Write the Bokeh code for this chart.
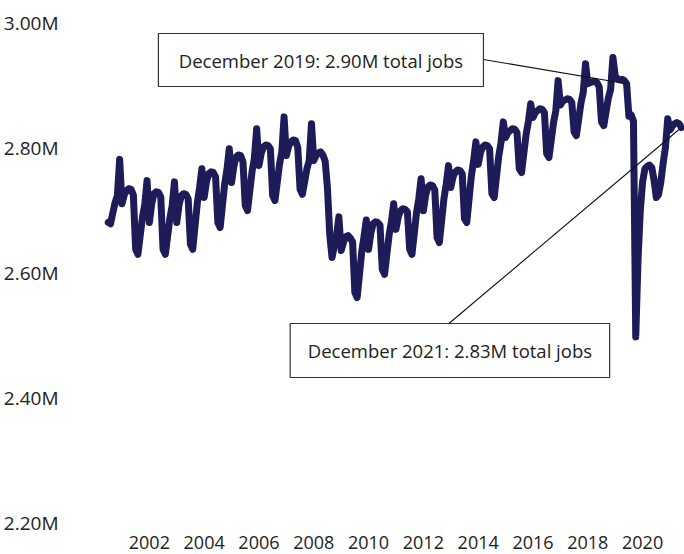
from bokeh.plotting import figure
from bokeh.models import Range1d, FixedTicker, CustomJSTickFormatter, PrintfTickFormatter, Label
from bokeh.embed import file_html
from bokeh.resources import INLINE

# ---- data: total jobs, millions, monthly Jan..Dec ----
jobs_2001 = [2.680, 2.678, 2.695, 2.712, 2.723, 2.781, 2.710, 2.724, 2.731, 2.734, 2.733, 2.724]
jobs_2002 = [2.637, 2.629, 2.659, 2.689, 2.709, 2.747, 2.680, 2.709, 2.726, 2.729, 2.728, 2.721]
jobs_2003 = [2.637, 2.629, 2.658, 2.687, 2.707, 2.745, 2.680, 2.708, 2.723, 2.726, 2.725, 2.718]
jobs_2004 = [2.645, 2.637, 2.674, 2.711, 2.736, 2.766, 2.720, 2.745, 2.758, 2.761, 2.760, 2.753]
jobs_2005 = [2.680, 2.672, 2.707, 2.742, 2.765, 2.798, 2.744, 2.770, 2.785, 2.788, 2.787, 2.777]
jobs_2006 = [2.707, 2.699, 2.731, 2.762, 2.783, 2.830, 2.771, 2.791, 2.801, 2.804, 2.803, 2.798]
jobs_2007 = [2.723, 2.715, 2.744, 2.773, 2.793, 2.849, 2.787, 2.802, 2.809, 2.812, 2.811, 2.800]
jobs_2008 = [2.733, 2.725, 2.745, 2.766, 2.779, 2.838, 2.779, 2.787, 2.791, 2.793, 2.788, 2.778]
jobs_2009 = [2.735, 2.660, 2.624, 2.643, 2.660, 2.689, 2.635, 2.648, 2.657, 2.659, 2.655, 2.649]
jobs_2010 = [2.568, 2.560, 2.596, 2.633, 2.657, 2.684, 2.637, 2.663, 2.678, 2.681, 2.680, 2.676]
jobs_2011 = [2.605, 2.597, 2.629, 2.660, 2.681, 2.710, 2.669, 2.689, 2.699, 2.702, 2.701, 2.697]
jobs_2012 = [2.637, 2.629, 2.662, 2.696, 2.718, 2.750, 2.699, 2.724, 2.737, 2.740, 2.739, 2.732]
jobs_2013 = [2.656, 2.648, 2.683, 2.718, 2.741, 2.771, 2.736, 2.753, 2.761, 2.764, 2.763, 2.758]
jobs_2014 = [2.686, 2.680, 2.717, 2.754, 2.779, 2.809, 2.773, 2.792, 2.801, 2.804, 2.803, 2.798]
jobs_2015 = [2.726, 2.720, 2.753, 2.786, 2.808, 2.841, 2.816, 2.824, 2.827, 2.830, 2.829, 2.824]
jobs_2016 = [2.766, 2.760, 2.791, 2.821, 2.842, 2.870, 2.848, 2.856, 2.859, 2.862, 2.861, 2.856]
jobs_2017 = [2.790, 2.784, 2.812, 2.840, 2.859, 2.907, 2.868, 2.874, 2.876, 2.878, 2.877, 2.872]
jobs_2018 = [2.825, 2.819, 2.845, 2.871, 2.888, 2.934, 2.902, 2.904, 2.905, 2.906, 2.904, 2.897]
jobs_2019 = [2.841, 2.835, 2.857, 2.879, 2.893, 2.944, 2.915, 2.910, 2.908, 2.909, 2.907, 2.902]
jobs_2020 = [2.850, 2.852, 2.842, 2.497, 2.620, 2.700, 2.745, 2.766, 2.770, 2.772, 2.768, 2.748]
jobs_2021 = [2.720, 2.725, 2.745, 2.775, 2.800, 2.846, 2.828, 2.834, 2.838, 2.840, 2.838, 2.832]

years = list(range(2001, 2022))
yearly = [jobs_2001, jobs_2002, jobs_2003, jobs_2004, jobs_2005, jobs_2006, jobs_2007,
          jobs_2008, jobs_2009, jobs_2010, jobs_2011, jobs_2012, jobs_2013, jobs_2014,
          jobs_2015, jobs_2016, jobs_2017, jobs_2018, jobs_2019, jobs_2020, jobs_2021]

x_tick_years = [2002, 2004, 2006, 2008, 2010, 2012, 2014, 2016, 2018, 2020]
y_ticks = [2.2, 2.4, 2.6, 2.8, 3.0]

note_2019 = "December 2019: 2.90M total jobs"
note_2021 = "December 2021: 2.83M total jobs"

# ---- build series ----
t = []
v = []
for yr, vals in zip(years, yearly):
    for m, val in enumerate(vals):
        t.append(yr + m / 12.0)
        v.append(val)

dec2019_t, dec2019_v = 2019 + 11 / 12.0, jobs_2019[11]
dec2021_t, dec2021_v = 2021 + 11 / 12.0, jobs_2021[11]

LINE = "#1d1b58"
TXT = "#222222"
FONT = "Open Sans"

p = figure(width=684, height=554, output_backend="svg", toolbar_location=None,
           x_range=Range1d(2000.754, 2022.029), y_range=Range1d(2.20, 3.00),
           min_border_left=100, min_border_right=0, min_border_top=22, min_border_bottom=32)
p.outline_line_color = None
p.xgrid.grid_line_color = None
p.ygrid.grid_line_color = None
p.background_fill_color = "white"
p.border_fill_color = "white"

for ax in (p.xaxis[0], p.yaxis[0]):
    ax.axis_line_color = None
    ax.major_tick_line_color = None
    ax.minor_tick_line_color = None
    ax.major_label_text_font = FONT
    ax.major_label_text_color = TXT

p.xaxis.ticker = FixedTicker(ticks=[y + 0.5 for y in x_tick_years])
p.xaxis.formatter = CustomJSTickFormatter(code="return String(Math.floor(tick));")
p.xaxis.major_label_text_font_size = "18px"
p.xaxis.major_label_standoff = 7

p.yaxis.ticker = FixedTicker(ticks=y_ticks)
p.yaxis.formatter = PrintfTickFormatter(format="%.2fM")
p.yaxis.major_label_text_font_size = "19px"
p.yaxis.major_label_standoff = 37

# data line
p.line(t, v, line_width=7, line_color=LINE, line_join="round", line_cap="round")

# leader lines
p.segment(x0=[2014.692, 2013.432], y0=[2.9408, 2.5184],
          x1=[dec2019_t, dec2021_t], y1=[dec2019_v, dec2021_v],
          line_color="#111111", line_width=1.1)

# annotation boxes
p.quad(left=[2002.831, 2007.639], right=[2014.692, 2019.297],
       top=[2.9824, 2.5184], bottom=[2.8976, 2.4320],
       fill_color="white", line_color="#333333", line_width=1.2)

p.add_layout(Label(x=2008.762, y=2.9400, text=note_2019, text_align="center",
                   text_baseline="middle", text_font=FONT, text_font_size="18.5px",
                   text_color=TXT))
p.add_layout(Label(x=2013.468, y=2.4752, text=note_2021, text_align="center",
                   text_baseline="middle", text_font=FONT, text_font_size="18.5px",
                   text_color=TXT))

open("out.html", "w").write(file_html(p, INLINE))
